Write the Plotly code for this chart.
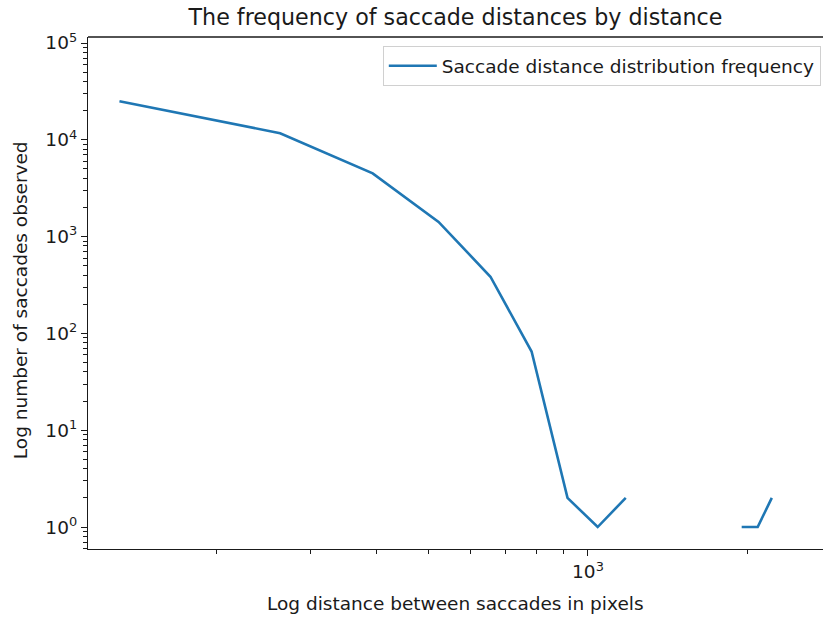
import plotly.graph_objects as go

# Data (log-log histogram of saccade distances)
distance_px = [131, 263, 393, 523, 655, 783, 915, 1043, 1178, 1310, 1440, 1570, 1700, 1830, 1948, 2088, 2220]
saccade_counts = [25000, 11700, 4500, 1420, 385, 65, 2, 1, 2, None, None, None, None, None, 1, 1, 2]

x_major_vals = [1000]
x_major_text = ["10<sup>3</sup>"]
x_minor_vals = [200, 300, 400, 500, 600, 700, 800, 900, 2000]

y_major_vals = [1, 10, 100, 1000, 10000, 100000]
y_major_text = ["10<sup>0</sup>", "10<sup>1</sup>", "10<sup>2</sup>", "10<sup>3</sup>", "10<sup>4</sup>", "10<sup>5</sup>"]
y_minor_vals = [m * 10 ** e for e in range(-1, 5) for m in range(2, 10)]

FONT = "DejaVu Sans"
BLUE = "#1f77b4"
INK = "#1a1a1a"
FS = 18.5

fig = go.Figure()
fig.add_trace(go.Scatter(
    x=distance_px, y=saccade_counts, mode="lines",
    line=dict(color=BLUE, width=2.6),
    name="Saccade distance distribution frequency",
    connectgaps=False,
))

fig.update_layout(
    width=823, height=617,
    margin=dict(l=88, r=0, t=37, b=68),
    paper_bgcolor="white", plot_bgcolor="white",
    font=dict(family=FONT, size=FS, color=INK),
    title=dict(text="The frequency of saccade distances by distance",
               x=0.5, xref="paper", y=1 - 17 / 617, yanchor="middle",
               font=dict(family=FONT, size=22.2, color=INK)),
    showlegend=True,
    legend=dict(x=0.997, xanchor="right", y=0.982, yanchor="top", itemwidth=48,
                bgcolor="rgba(255,255,255,0.8)", bordercolor="#d0d0d0", borderwidth=1,
                font=dict(family=FONT, size=FS, color=INK)),
    xaxis=dict(type="log", range=[2.058, 3.4428], showgrid=False, zeroline=False,
               showline=True, linecolor=INK, linewidth=1.3,
               ticks="outside", ticklen=6, tickwidth=1.3, tickcolor=INK,
               tickmode="array", tickvals=x_major_vals, ticktext=x_major_text,
               tickfont=dict(family=FONT, size=FS, color=INK),
               minor=dict(ticks="outside", ticklen=3.5, tickwidth=1.1, tickcolor=INK,
                          tickmode="array", tickvals=x_minor_vals, showgrid=False)),
    yaxis=dict(type="log", range=[-0.227, 5.062], showgrid=False, zeroline=False,
               showline=True, linecolor=INK, linewidth=1.3,
               ticks="outside", ticklen=6, tickwidth=1.3, tickcolor=INK,
               tickmode="array", tickvals=y_major_vals, ticktext=y_major_text,
               tickfont=dict(family=FONT, size=FS, color=INK),
               minor=dict(ticks="outside", ticklen=3.5, tickwidth=1.1, tickcolor=INK,
                          tickmode="array", tickvals=y_minor_vals, showgrid=False)),
)

# top spine
fig.add_shape(type="line", xref="paper", yref="paper", x0=0, x1=1, y0=1, y1=1,
              line=dict(color=INK, width=1.3))

# axis titles
fig.add_annotation(text="Log distance between saccades in pixels", xref="paper", yref="paper",
                   x=0.5, y=(549 - 603) / 512, xanchor="center", yanchor="middle", showarrow=False,
                   font=dict(family=FONT, size=FS, color=INK))
fig.add_annotation(text="Log number of saccades observed", xref="paper", yref="paper",
                   x=(20 - 88) / 735, y=0.486, xanchor="center", yanchor="middle", showarrow=False,
                   textangle=-90, font=dict(family=FONT, size=FS, color=INK))

fig.write_html("out.html")
